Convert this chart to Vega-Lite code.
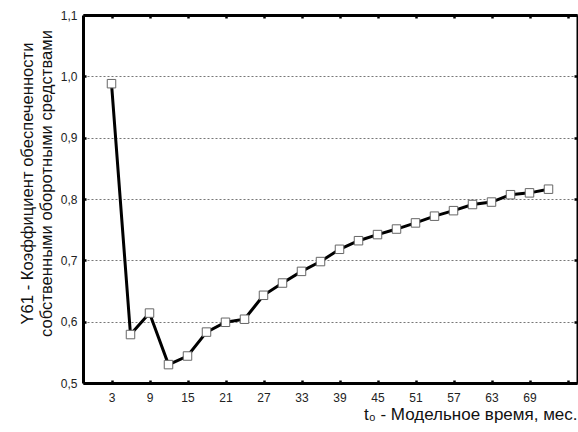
{
  "$schema": "https://vega.github.io/schema/vega-lite/v6.json",
  "width": 494,
  "height": 368,
  "autosize": "none",
  "padding": {"left": 83, "top": 15, "right": 1, "bottom": 49},
  "background": "white",
  "config": {
    "view": {"stroke": null},
    "font": "Liberation Sans",
    "axis": {"labelFont": "Liberation Sans", "titleFont": "Liberation Sans", "labelColor": "#222", "titleColor": "#111", "titleFontWeight": "normal"}
  },
  "data": {
    "values": [
      {"t": 3, "v": 0.988},
      {"t": 6, "v": 0.579},
      {"t": 9, "v": 0.614},
      {"t": 12, "v": 0.530},
      {"t": 15, "v": 0.544},
      {"t": 18, "v": 0.583},
      {"t": 21, "v": 0.599},
      {"t": 24, "v": 0.604},
      {"t": 27, "v": 0.643},
      {"t": 30, "v": 0.663},
      {"t": 33, "v": 0.682},
      {"t": 36, "v": 0.698},
      {"t": 39, "v": 0.718},
      {"t": 42, "v": 0.732},
      {"t": 45, "v": 0.742},
      {"t": 48, "v": 0.751},
      {"t": 51, "v": 0.761},
      {"t": 54, "v": 0.772},
      {"t": 57, "v": 0.781},
      {"t": 60, "v": 0.791},
      {"t": 63, "v": 0.795},
      {"t": 66, "v": 0.807},
      {"t": 69, "v": 0.810},
      {"t": 72, "v": 0.816}
    ]
  },
  "resolve": {"axis": {"x": "independent", "y": "independent"}},
  "layer": [
    {
      "mark": {"type": "point", "opacity": 0},
      "encoding": {
        "x": {
          "field": "t", "type": "quantitative",
          "scale": {"domain": [-1.5, 76.5], "nice": false, "zero": false},
          "axis": {
            "orient": "top",
            "values": [3, 9, 15, 21, 27, 33, 39, 45, 51, 57, 63, 69, 75],
            "labels": false, "grid": false, "title": null,
            "domainColor": "black", "domainWidth": 3,
            "tickColor": "black", "tickSize": -3, "tickWidth": 2.5
          }
        },
        "y": {
          "field": "v", "type": "quantitative",
          "scale": {"domain": [0.5, 1.1], "nice": false, "zero": false},
          "axis": {
            "orient": "right",
            "values": [0.5, 0.6, 0.7, 0.8, 0.9, 1.0, 1.1],
            "labels": false, "grid": false, "title": null,
            "domainColor": "black", "domainWidth": 2,
            "tickColor": "black", "tickSize": -3, "tickWidth": 2.5
          }
        }
      }
    },
    {
      "mark": {"type": "line", "color": "black", "strokeWidth": 3},
      "encoding": {
        "x": {
          "field": "t", "type": "quantitative",
          "scale": {"domain": [-1.5, 76.5], "nice": false, "zero": false},
          "axis": {
            "orient": "bottom",
            "values": [3, 9, 15, 21, 27, 33, 39, 45, 51, 57, 63, 69, 75],
            "labelExpr": "datum.value == 75 ? '' : datum.label",
            "grid": false,
            "domainColor": "black", "domainWidth": 3,
            "tickColor": "black", "tickSize": -3, "tickWidth": 2.5,
            "labelFontSize": 12, "labelPadding": 12,
            "title": "t₀ - Модельное время, мес.",
            "titleFontSize": 17, "titleAnchor": "end", "titlePadding": 3
          }
        },
        "y": {
          "field": "v", "type": "quantitative",
          "scale": {"domain": [0.5, 1.1], "nice": false, "zero": false},
          "axis": {
            "orient": "left",
            "values": [0.5, 0.6, 0.7, 0.8, 0.9, 1.0, 1.1],
            "labelExpr": "replace(format(datum.value, '.1f'), '.', ',')",
            "grid": true, "gridColor": "#777", "gridDash": [2, 2], "gridWidth": 1,
            "domainColor": "black", "domainWidth": 3,
            "tickColor": "black", "tickSize": -3, "tickWidth": 2.5,
            "labelFontSize": 12, "labelPadding": 9,
            "title": ["Y61 - Коэффициент обеспеченности", "собственными оборотными средствами"],
            "titleFontSize": 16.6, "titleLineHeight": 19, "titlePadding": 6, "titleY": 168
          }
        }
      }
    },
    {
      "mark": {"type": "point", "shape": "square", "size": 72, "filled": true, "fill": "white", "stroke": "#666", "strokeWidth": 1, "opacity": 1},
      "encoding": {
        "x": {"field": "t", "type": "quantitative", "scale": {"domain": [-1.5, 76.5], "nice": false, "zero": false}, "axis": null},
        "y": {"field": "v", "type": "quantitative", "scale": {"domain": [0.5, 1.1], "nice": false, "zero": false}, "axis": null}
      }
    }
  ]
}
